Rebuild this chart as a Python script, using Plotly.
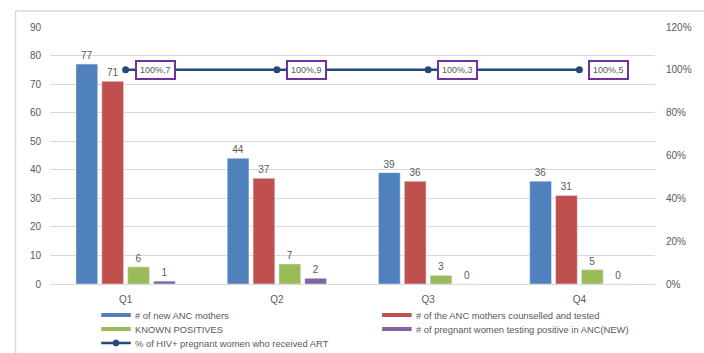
import plotly.graph_objects as go

quarters = ["Q1", "Q2", "Q3", "Q4"]
new_anc = [77, 44, 39, 36]
counselled_tested = [71, 37, 36, 31]
known_positives = [6, 7, 3, 5]
new_positives = [1, 2, 0, 0]
pct_art = [1.0, 1.0, 1.0, 1.0]
art_counts = [7, 9, 3, 5]

names = ["# of new ANC mothers", "# of the ANC mothers counselled and tested",
         "KNOWN POSITIVES", "# of pregnant women testing positive in ANC(NEW)"]
colors = ["#4F81BD", "#C0504D", "#9BBB59", "#8064A2"]
line_name = "% of HIV+ pregnant women who received ART"
line_color = "#254A78"
txt = "#595959"
font_fam = "Liberation Sans, Arial, sans-serif"

W, H = 704, 353
ML, MR, MT, MB = 50, 40, 27, 69
PW, PH = W - ML - MR, H - MT - MB


def px(xp):
    return (xp - ML) / PW


def py(yp):
    return (H - MB - yp) / PH


fig = go.Figure()
for vals, nm, col in zip([new_anc, counselled_tested, known_positives, new_positives], names, colors):
    fig.add_trace(go.Bar(x=quarters, y=vals, name=nm, marker_color=col, showlegend=False,
                         text=vals, textposition="outside", cliponaxis=False,
                         textfont=dict(size=10, color=txt, family=font_fam)))

fig.add_trace(go.Scatter(x=quarters, y=pct_art, yaxis="y2", mode="lines+markers", name=line_name,
                         line=dict(color=line_color, width=2.5), marker=dict(size=7, color=line_color),
                         showlegend=False))

for q, p, c in zip(quarters, pct_art, art_counts):
    fig.add_annotation(x=q, y=p, yref="y2", text=f"{p:.0%},{c}", showarrow=False,
                       xanchor="left", xshift=9, bgcolor="white", bordercolor="#7030A0",
                       borderwidth=2, borderpad=3, font=dict(size=9, color=txt, family=font_fam))

# outer chart frame
fig.add_shape(type="line", xref="paper", yref="paper", x0=px(15), x1=px(720), y0=py(11), y1=py(11),
              line=dict(color="#D9D9D9", width=1.5))
fig.add_shape(type="line", xref="paper", yref="paper", x0=px(15), x1=px(15), y0=py(11), y1=py(360),
              line=dict(color="#D9D9D9", width=1.5))

# custom legend (two columns, three rows)
legend_items = [(names[0], colors[0], 102, 315), (names[1], colors[1], 387, 315),
                (names[2], colors[2], 102, 329), (names[3], colors[3], 387, 329),
                (line_name, line_color, 102, 343)]
for i, (nm, col, lx, ly) in enumerate(legend_items):
    is_line = i == 4
    fig.add_shape(type="line", xref="paper", yref="paper", x0=px(lx), x1=px(lx + 30),
                  y0=py(ly), y1=py(ly), line=dict(color=col, width=2.5 if is_line else 4))
    if is_line:
        fig.add_shape(type="circle", xref="paper", yref="paper", x0=px(lx + 12), x1=px(lx + 18),
                      y0=py(ly + 3), y1=py(ly - 3), fillcolor=col, line=dict(color=col, width=1))
    fig.add_annotation(xref="paper", yref="paper", x=px(lx + 32), y=py(ly), text=nm,
                       showarrow=False, xanchor="left", yanchor="middle",
                       font=dict(size=9.4, color=txt, family=font_fam))

fig.update_layout(
    width=W, height=H,
    margin=dict(l=ML, r=MR, t=MT, b=MB),
    paper_bgcolor="white", plot_bgcolor="white",
    barmode="group", bargap=0.316, bargroupgap=0.16,
    font=dict(family=font_fam, color=txt, size=10),
    showlegend=False,
    xaxis=dict(showgrid=False, showline=False, ticks="", tickfont=dict(size=10, color=txt),
               ticklabelstandoff=8),
    yaxis=dict(range=[0, 90], dtick=10, showgrid=True, gridcolor="#D9D9D9", gridwidth=1,
               zeroline=True, zerolinecolor="#D9D9D9", zerolinewidth=1, showline=False,
               tickfont=dict(size=10, color=txt), ticklabelstandoff=8),
    yaxis2=dict(range=[0, 1.2], dtick=0.2, tickformat=".0%", overlaying="y", side="right",
                showgrid=False, zeroline=False, showline=False,
                tickfont=dict(size=10, color=txt), ticklabelstandoff=10),
)

fig.write_html("out.html")
